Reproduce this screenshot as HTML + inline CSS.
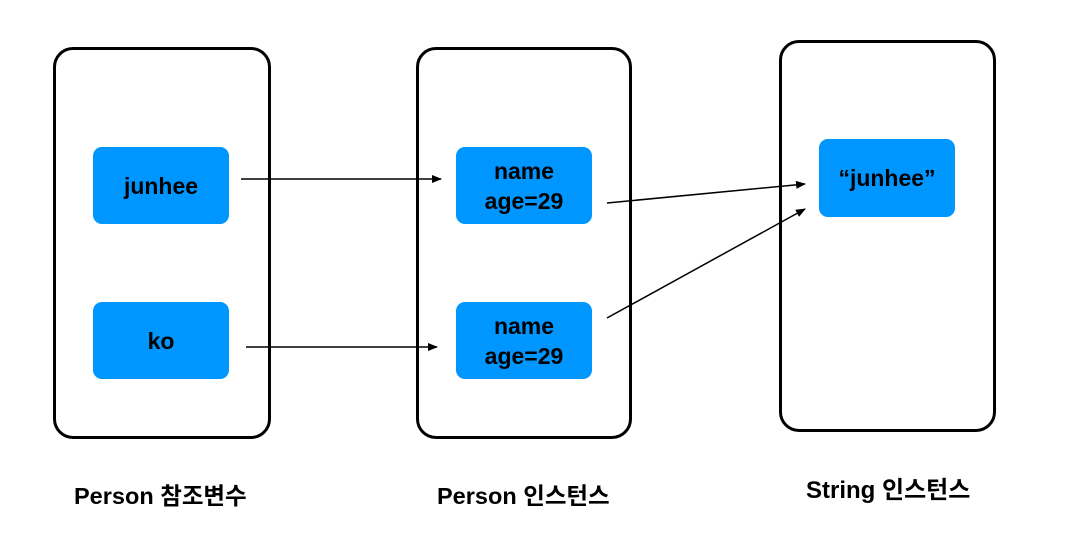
<!DOCTYPE html>
<html><head><meta charset="utf-8"><style>
body{margin:0;width:1073px;height:555px;background:#fff;position:relative;overflow:hidden;font-family:"Liberation Sans","Noto Sans CJK KR",sans-serif}
.c{position:absolute;border:3.5px solid #000;border-radius:20px;box-sizing:border-box}
.b{position:absolute;background:#0096ff;border-radius:9px;display:flex;align-items:center;justify-content:center;text-align:center;font-size:23px;font-weight:bold;line-height:30px;color:#000;width:136px;height:77px}
.l{position:absolute;font-size:23.5px;font-weight:bold;white-space:nowrap}
</style></head><body>
<div class="c" style="left:53px;top:47px;width:218px;height:392px"></div>
<div class="c" style="left:416px;top:47px;width:216px;height:392px"></div>
<div class="c" style="left:779px;top:40px;width:217px;height:392px"></div>
<div class="b" style="left:93px;top:147px">junhee</div>
<div class="b" style="left:93px;top:302px">ko</div>
<div class="b" style="left:456px;top:147px">name<br>age=29</div>
<div class="b" style="left:456px;top:302px">name<br>age=29</div>
<div class="b" style="left:819px;top:139px;height:78px">“junhee”</div>
<svg width="1073" height="555" style="position:absolute;left:0;top:0">
<defs><marker id="a" markerWidth="10" markerHeight="8" refX="9" refY="4" orient="auto" markerUnits="userSpaceOnUse"><path d="M0,0 L10,4 L0,8 z"/></marker></defs>
<g stroke="#000" stroke-width="1.5">
<line x1="241" y1="179" x2="441" y2="179" marker-end="url(#a)"/>
<line x1="246" y1="347" x2="437" y2="347" marker-end="url(#a)"/>
<line x1="607" y1="203" x2="805" y2="184" marker-end="url(#a)"/>
<line x1="607" y1="318" x2="805" y2="209" marker-end="url(#a)"/>
</g></svg>
<div class="l" style="left:74px;top:477px">Person 참조변수</div>
<div class="l" style="left:437px;top:477px">Person 인스턴스</div>
<div class="l" style="left:806px;top:470px;font-size:24px">String 인스턴스</div>
</body></html>
